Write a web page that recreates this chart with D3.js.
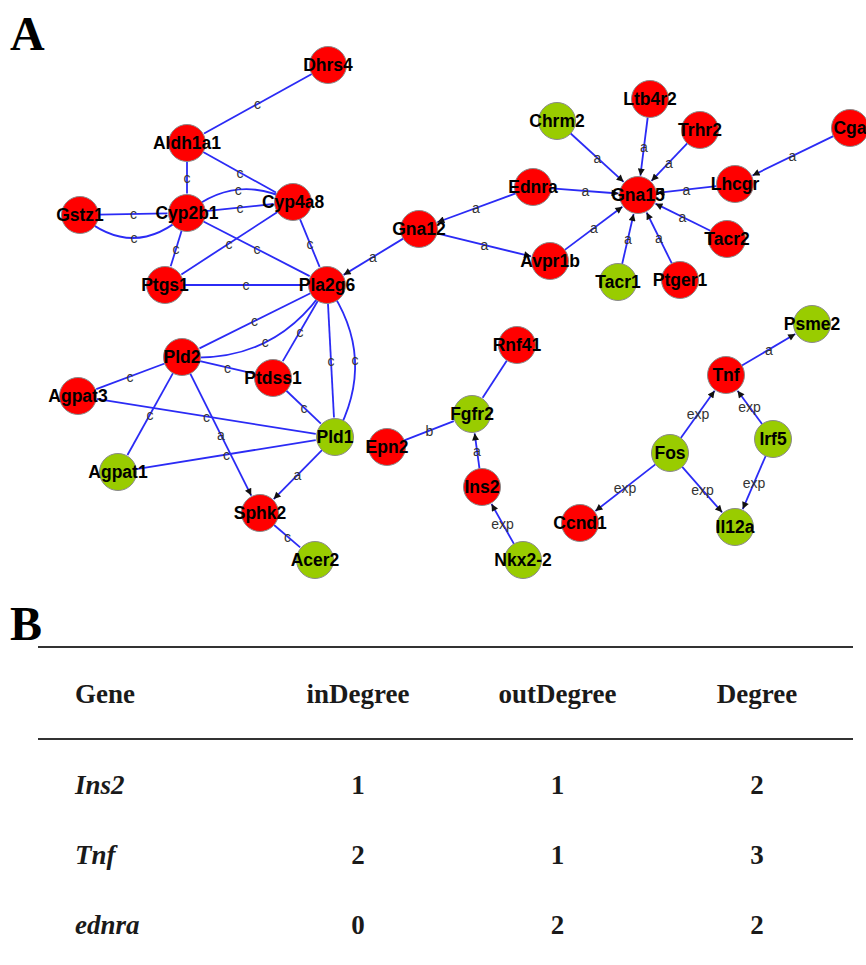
<!DOCTYPE html>
<html>
<head>
<meta charset="utf-8">
<script src="https://cdn.jsdelivr.net/npm/d3@7/dist/d3.min.js"></script>
<style>
    body { margin: 0; background: #fff; }
    svg { display: block; }
</style>
</head>
<body>
<svg id="fig" width="866" height="965"></svg>
<script>
// Genes of the network, their group (red / green node) and the layout
const genes = ["Dhrs4", "Aldh1a1", "Cyp2b1", "Gstz1", "Cyp4a8", "Ptgs1", "Pla2g6", "Pld2", "Ptdss1",
    "Agpat3", "Pld1", "Agpat1", "Sphk2", "Acer2", "Gna12", "Ednra", "Avpr1b", "Chrm2", "Ltb4r2",
    "Trhr2", "Cga", "Lhcgr", "Gna15", "Tacr2", "Tacr1", "Ptger1", "Rnf41", "Fgfr2", "Epn2", "Ins2",
    "Nkx2-2", "Psme2", "Tnf", "Fos", "Irf5", "Ccnd1", "Il12a"];
const geneGroup = ["up", "up", "up", "up", "up", "up", "up", "up", "up",
    "up", "down", "down", "up", "down", "up", "up", "up", "down", "up",
    "up", "up", "up", "up", "up", "down", "up", "up", "down", "up", "up",
    "down", "down", "up", "down", "down", "up", "down"];
const layoutX = [328, 187, 187, 80, 293, 165, 327, 182, 273,
    78, 335, 118, 260, 315, 419, 533, 550, 557, 650,
    700, 850, 735, 638, 727, 618, 680, 517, 472, 387, 482,
    523, 812, 726, 670, 773, 580, 735];
const layoutY = [65, 143, 213, 215, 202, 285, 285, 357, 378,
    396, 437, 472, 513, 560, 229, 187, 261, 121, 99,
    130, 128, 184, 195, 239, 282, 280, 345, 414, 447, 487,
    560, 324, 375, 453, 439, 523, 527];

// Interactions: source, target, type (c = undirected, a / exp = directed)
const edgeSource = ["Dhrs4", "Aldh1a1", "Aldh1a1", "Cyp2b1", "Cyp2b1", "Gstz1", "Gstz1", "Cyp2b1", "Cyp2b1",
    "Cyp4a8", "Cyp4a8", "Ptgs1", "Pla2g6", "Pla2g6", "Pla2g6", "Pla2g6", "Pla2g6", "Pld2", "Pld2",
    "Pld2", "Pld2", "Agpat3", "Ptdss1", "Agpat1", "Pld1", "Sphk2", "Gna12",
    "Ednra", "Gna12", "Ednra", "Avpr1b", "Chrm2", "Ltb4r2", "Trhr2", "Lhcgr", "Tacr2", "Ptger1", "Tacr1", "Cga",
    "Rnf41", "Epn2", "Ins2", "Nkx2-2",
    "Tnf", "Fos", "Irf5", "Fos", "Fos", "Irf5"];
const edgeTarget = ["Aldh1a1", "Cyp2b1", "Cyp4a8", "Cyp4a8", "Cyp4a8", "Cyp2b1", "Cyp2b1", "Ptgs1", "Pla2g6",
    "Ptgs1", "Pla2g6", "Pla2g6", "Pld2", "Pld2", "Ptdss1", "Pld1", "Pld1", "Ptdss1", "Agpat3",
    "Agpat1", "Sphk2", "Pld1", "Pld1", "Pld1", "Sphk2", "Acer2", "Pla2g6",
    "Gna12", "Avpr1b", "Gna15", "Gna15", "Gna15", "Gna15", "Gna15", "Gna15", "Gna15", "Gna15", "Gna15", "Lhcgr",
    "Fgfr2", "Fgfr2", "Fgfr2", "Ins2",
    "Psme2", "Tnf", "Tnf", "Ccnd1", "Il12a", "Il12a"];
const edgeType = ["c", "c", "c", "c", "c", "c", "c", "c", "c",
    "c", "c", "c", "c", "c", "c", "c", "c", "c", "c",
    "c", "a", "c", "c", "c", "a", "c", "a",
    "a", "a", "a", "a", "a", "a", "a", "a", "a", "a", "a", "a",
    "", "b", "a", "exp",
    "a", "exp", "exp", "exp", "exp", "exp"];
// second edge of a parallel pair is drawn bent (sign = side, size = relative bow)
const edgeBend = [0, 0, 0, 0, -0.75, 0, 1, 0, 0,
    0, 0, 0, 0, -1, 0, 0, -1, 0, 0,
    0, 0, 0, 0, 0, 0, 0, 0,
    0, 0, 0, 0, 0, 0, 0, 0, 0, 0, 0, 0,
    0, 0, 0, 0,
    0, 0, 0, 0, 0, 0];
const directedTypes = ["a", "exp"];

// Table B
const tableHeader = ["Gene", "inDegree", "outDegree", "Degree"];
const tableGenes = ["Ins2", "Tnf", "ednra"];
const inDegree = [1, 2, 0];
const outDegree = [1, 1, 2];
const degree = [2, 3, 2];

const svg = d3.select("#fig");
const nodeR = 18.5;
const bendSize = 24;

// layout units -> page pixels for panel A
const x = d3.scaleLinear().domain([78, 850]).range([78, 850]);
const y = d3.scaleLinear().domain([65, 560]).range([65, 560]);
const color = d3.scaleOrdinal().domain(["up", "down"]).range(["#ff0000", "#99cc00"]);

const nodes = genes.map((g, i) => ({ id: g, group: geneGroup[i], px: x(layoutX[i]), py: y(layoutY[i]) }));
const byId = new Map(nodes.map(d => [d.id, d]));
const edges = edgeSource.map((s, i) => ({
    s: byId.get(s), t: byId.get(edgeTarget[i]), type: edgeType[i], bend: edgeBend[i],
    directed: directedTypes.includes(edgeType[i])
}));

// panel letters
svg.append("text").attr("x", 10).attr("y", 50)
    .attr("font-family", "Liberation Serif, serif").attr("font-weight", "bold").attr("font-size", 48)
    .text("A");
svg.append("text").attr("x", 10).attr("y", 640)
    .attr("font-family", "Liberation Serif, serif").attr("font-weight", "bold").attr("font-size", 48)
    .text("B");

svg.append("defs").append("marker")
    .attr("id", "arrow")
    .attr("viewBox", "0 0 10 10")
    .attr("refX", 10).attr("refY", 5)
    .attr("markerWidth", 10).attr("markerHeight", 7)
    .attr("markerUnits", "userSpaceOnUse")
    .attr("orient", "auto")
    .append("path").attr("d", "M0,0 L10,5 L0,10 Z").attr("fill", "#111");

function edgeGeometry(e) {
    const dx = e.t.px - e.s.px, dy = e.t.py - e.s.py;
    const len = Math.hypot(dx, dy);
    const ux = dx / len, uy = dy / len;
    if (!e.bend) {
        const sx = e.s.px + ux * nodeR, sy = e.s.py + uy * nodeR;
        const tx = e.t.px - ux * (nodeR + 1), ty = e.t.py - uy * (nodeR + 1);
        return { d: `M${sx},${sy} L${tx},${ty}`, lx: (e.s.px + e.t.px) / 2, ly: (e.s.py + e.t.py) / 2 };
    }
    const nx = -uy * e.bend, ny = ux * e.bend;
    const mx = (e.s.px + e.t.px) / 2, my = (e.s.py + e.t.py) / 2;
    const cx = mx + nx * bendSize * 2, cy = my + ny * bendSize * 2;
    return { d: `M${e.s.px},${e.s.py} Q${cx},${cy} ${e.t.px},${e.t.py}`, lx: mx + nx * bendSize, ly: my + ny * bendSize };
}
edges.forEach(e => Object.assign(e, edgeGeometry(e)));

const gEdges = svg.append("g");
gEdges.selectAll("path")
    .data(edges)
    .enter().append("path")
    .attr("d", d => d.d)
    .attr("fill", "none")
    .attr("stroke", "#2b2bf5")
    .attr("stroke-width", 1.8)
    .attr("marker-end", d => d.directed ? "url(#arrow)" : null);

gEdges.selectAll("text")
    .data(edges.filter(d => d.type))
    .enter().append("text")
    .attr("x", d => d.lx)
    .attr("y", d => d.ly)
    .attr("text-anchor", "middle")
    .attr("dominant-baseline", "central")
    .attr("font-family", "Liberation Sans, Arial, sans-serif")
    .attr("font-size", 14)
    .attr("fill", "#333")
    .text(d => d.type);

const gNodes = svg.append("g");
const node = gNodes.selectAll("g")
    .data(nodes)
    .enter().append("g")
    .attr("transform", d => `translate(${d.px},${d.py})`);

node.append("circle")
    .attr("r", nodeR)
    .attr("fill", d => color(d.group))
    .attr("stroke", "#8a8a8a")
    .attr("stroke-width", 1);

node.append("text")
    .attr("text-anchor", "middle")
    .attr("dominant-baseline", "central")
    .attr("font-family", "Liberation Sans, Arial, sans-serif")
    .attr("font-weight", "bold")
    .attr("font-size", 17.5)
    .attr("fill", "#000")
    .text(d => d.id);

// ---- Table B ----
const colX = d3.scalePoint().domain(tableHeader.slice(1)).range([358, 757]);
const rowY = d3.scaleBand().domain(tableGenes).range([750, 960]);
const serif = "Liberation Serif, 'Times New Roman', serif";

const table = svg.append("g");
table.selectAll("line")
    .data([647, 739])
    .enter().append("line")
    .attr("x1", 38).attr("x2", 853)
    .attr("y1", d => d).attr("y2", d => d)
    .attr("stroke", "#333").attr("stroke-width", 2);

table.selectAll("text.head")
    .data(tableHeader)
    .enter().append("text")
    .attr("class", "head")
    .attr("x", d => d === "Gene" ? 75 : colX(d))
    .attr("y", 703)
    .attr("text-anchor", d => d === "Gene" ? "start" : "middle")
    .attr("font-family", serif)
    .attr("font-weight", "bold")
    .attr("font-size", 27)
    .attr("fill", "#1a1a1a")
    .text(d => d);

const rows = tableGenes.map((g, i) => ({ gene: g, values: [inDegree[i], outDegree[i], degree[i]] }));
const row = table.selectAll("g.row")
    .data(rows)
    .enter().append("g")
    .attr("class", "row")
    .attr("transform", d => `translate(0,${rowY(d.gene) + rowY.bandwidth() / 2 + 9})`);

row.append("text")
    .attr("x", 75)
    .attr("font-family", serif)
    .attr("font-style", "italic")
    .attr("font-weight", "bold")
    .attr("font-size", 27)
    .attr("fill", "#1a1a1a")
    .text(d => d.gene);

row.selectAll("text.val")
    .data(d => d.values.map((v, i) => ({ col: tableHeader[i + 1], v })))
    .enter().append("text")
    .attr("class", "val")
    .attr("x", d => colX(d.col))
    .attr("text-anchor", "middle")
    .attr("font-family", serif)
    .attr("font-weight", "bold")
    .attr("font-size", 27)
    .attr("fill", "#1a1a1a")
    .text(d => d.v);
</script>
</body>
</html>
